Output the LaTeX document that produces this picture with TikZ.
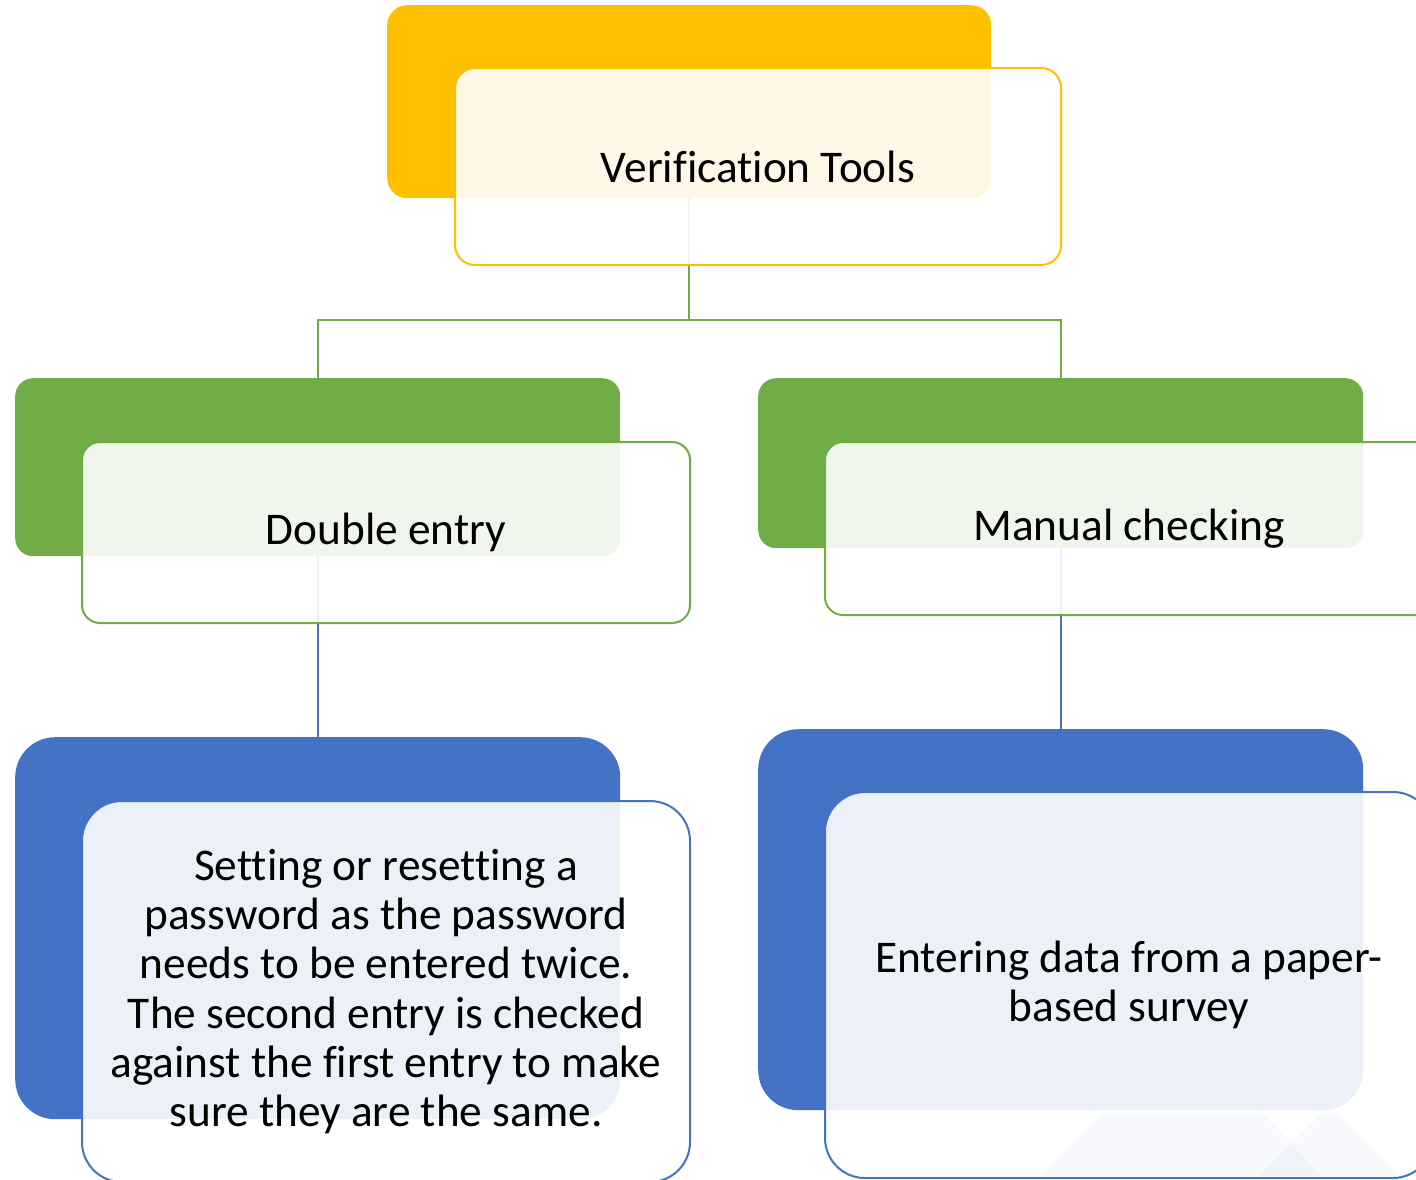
\documentclass[tikz,border=0pt]{standalone}
\usepackage{fontspec}
\setmainfont{Carlito}[Ligatures=CommonOff]
\definecolor{cyel}{HTML}{FFC000}
\definecolor{cgrn}{HTML}{70AD47}
\definecolor{cblu}{HTML}{4472C4}
\begin{document}
\begin{tikzpicture}[x=1bp,y=-1bp,
  backbox/.style={draw=none,inner sep=0pt,anchor=north west},
  frontbox/.style={fill=white,fill opacity=0.9,text opacity=1,line width=2bp,inner sep=0pt,anchor=north west,align=center,text=black},
  txt/.style={font=\fontsize{45.5}{49.5}\selectfont},
  conn/.style={line width=2bp}]
\useasboundingbox (0,0) rectangle (1416,1179);
\clip (0,0) rectangle (1416,1179);
% back boxes
\node[backbox,fill=cyel,rounded corners=20bp,minimum width=604bp,minimum height=193bp] (tb) at (387,5) {};
\node[backbox,fill=cgrn,rounded corners=18bp,minimum width=605bp,minimum height=178bp] (lb) at (15,378) {};
\node[backbox,fill=cgrn,rounded corners=18bp,minimum width=605bp,minimum height=170bp] (rb) at (758,378) {};
\node[backbox,fill=cblu,rounded corners=40bp,minimum width=605bp,minimum height=382bp] (llb) at (15,737) {};
\node[backbox,fill=cblu,rounded corners=40bp,minimum width=605bp,minimum height=381bp] (rlb) at (758,729) {};
% connectors
\draw[conn,cgrn] (tb.south) -- ++(0,122) -| (lb.north);
\draw[conn,cgrn] (tb.south) -- ++(0,122) -| (rb.north);
\draw[conn,cblu] (lb.south) -- (llb.north);
\draw[conn,cblu] (rb.south) -- (rlb.north);
% front boxes
\node[frontbox,draw=cyel,rounded corners=20bp,minimum width=606bp,minimum height=197bp,txt] (tf) at (454,67) {Verification Tools};
\node[frontbox,draw=cgrn,rounded corners=18bp,minimum width=608bp,minimum height=181bp,txt] (lf) at (81,441) {Double entry};
\node[frontbox,draw=cgrn,rounded corners=18bp,minimum width=608bp,minimum height=173bp,txt] (rf) at (824,441) {Manual checking};
\node[frontbox,draw=cblu,rounded corners=40bp,minimum width=608bp,minimum height=381bp,txt] (llf) at (81,800) {Setting or resetting a\\password as the password\\needs to be entered twice.\\The second entry is checked\\against the first entry to make\\sure they are the same.};
\node[frontbox,draw=cblu,rounded corners=40bp,minimum width=608bp,minimum height=386bp,txt] (rlf) at (824,791) {Entering data from a paper-\\based survey};
% faint background triangles
\fill[cblu,fill opacity=0.04] (1040,1176) -- (1104,1113) -- (1262,1113) -- (1322,1176) -- cycle;
\fill[cblu,fill opacity=0.04] (1258,1176) -- (1322,1113) -- (1337,1113) -- (1400,1176) -- cycle;
\end{tikzpicture}
\end{document}
